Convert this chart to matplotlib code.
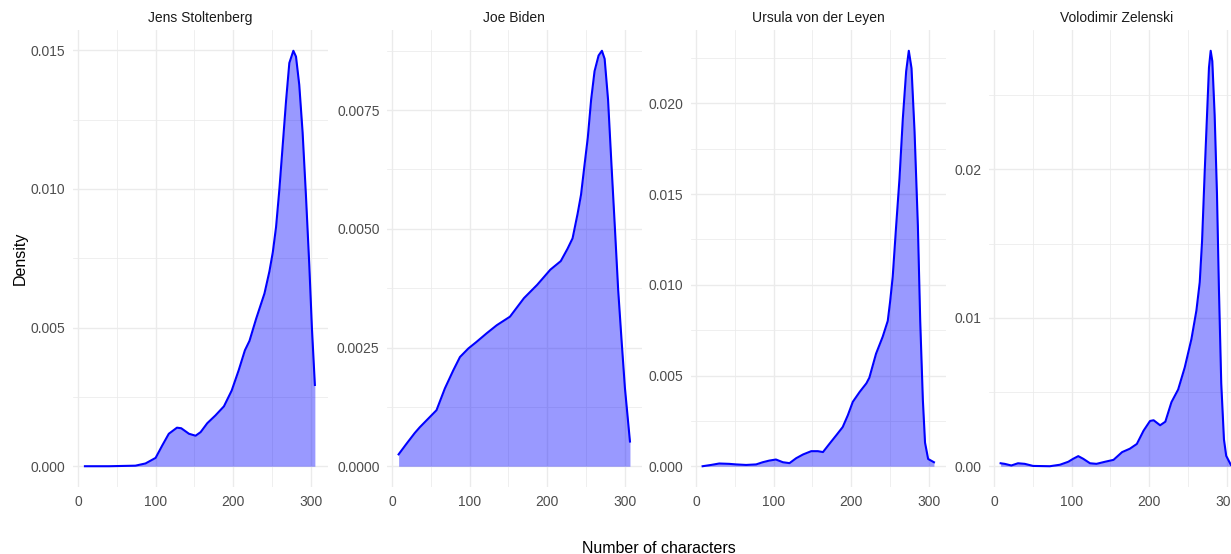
import numpy as np
import matplotlib
matplotlib.use("Agg")
import matplotlib.pyplot as plt
from matplotlib.ticker import FixedLocator, FormatStrFormatter

plt.rcParams["font.family"] = ["Liberation Sans", "DejaVu Sans"]

# ===============================
# Data (density curves)
# ===============================
speakers = ["Jens Stoltenberg", "Joe Biden", "Ursula von der Leyen", "Volodimir Zelenski"]

jens_x = [9, 40, 74, 87, 100, 108.6, 117, 127.5, 133, 143, 151.5, 158, 166.5, 177, 188,
          198, 207, 215, 220.9, 229.5, 240.2, 246.6, 250.9, 255.1, 259.4, 263.7, 268,
          272.2, 277.4, 280.8, 285, 289.3, 293.6, 297.9, 301.3, 305.1]
jens_y = [0, 0, 0.00002, 0.0001, 0.0003, 0.00075, 0.00117, 0.00139, 0.00137, 0.00117,
          0.0011, 0.00123, 0.00155, 0.00183, 0.00216, 0.00273, 0.00346, 0.00418, 0.00452,
          0.00532, 0.00623, 0.00703, 0.00771, 0.00862, 0.00999, 0.01158, 0.01318, 0.01454,
          0.01498, 0.01477, 0.01375, 0.01204, 0.00976, 0.00726, 0.00498, 0.00293]

biden_x = [8.6, 18.6, 29.4, 35.8, 46.6, 57.4, 68.2, 79, 87.6, 98.4, 109, 122, 135, 152,
           170, 187, 204, 217.4, 226.1, 232.6, 239.1, 243.5, 247.8, 252.2, 256.5, 260.9,
           266.1, 270.4, 273.9, 278.3, 282.6, 287, 291.3, 295.7, 300, 306.5]
biden_y = [0.00025, 0.00047, 0.0007, 0.00082, 0.001, 0.00118, 0.00164, 0.00202, 0.0023,
           0.00248, 0.00262, 0.0028, 0.00297, 0.00315, 0.00354, 0.00382, 0.00414, 0.00432,
           0.00458, 0.0048, 0.00532, 0.00572, 0.00632, 0.00692, 0.00772, 0.00832, 0.00865,
           0.00875, 0.00858, 0.00772, 0.00638, 0.00505, 0.00372, 0.00265, 0.00165, 0.00052]

ursula_x = [8.6, 19.4, 30, 43, 51.7, 64.6, 77.5, 86, 94.4, 103, 112, 120.5, 129, 138,
            148.5, 157, 163.6, 172, 180.6, 189, 195.6, 202, 210.9, 219.5, 223.3, 231.9,
            240.5, 247, 250, 253.4, 257.8, 262.1, 266.4, 270.7, 274.1, 277.6, 281.5, 285.8,
            288.8, 292.2, 295, 299, 306.5]
ursula_y = [0, 0.00007, 0.00015, 0.00013, 0.0001, 0.00007, 0.0001, 0.00022, 0.00031,
            0.00037, 0.00022, 0.00017, 0.00044, 0.00065, 0.00083, 0.00083, 0.00078, 0.00124,
            0.0017, 0.00216, 0.00281, 0.00355, 0.0041, 0.00457, 0.00488, 0.0062, 0.00714,
            0.00801, 0.00906, 0.01045, 0.01324, 0.01585, 0.01916, 0.02177, 0.0229, 0.02194,
            0.01846, 0.01324, 0.00801, 0.00366, 0.0013, 0.0004, 0.00022]

zelenski_x = [8.6, 13.8, 22.4, 31, 39.7, 50.4, 72, 85, 95.7, 102, 108.6, 115, 123.7, 132,
              143, 154, 165, 175, 184, 192.7, 201, 205.6, 214, 220.7, 228.6, 237.2, 245.7,
              254.3, 260.7, 265, 268, 271.4, 274.4, 276.9, 279.1, 281.2, 284.2, 287.2,
              289.7, 292.7, 296.2, 299.1, 305]
zelenski_y = [0.0002, 0.00016, 0.00005, 0.0002, 0.00016, 0.00002, 0, 0.0001, 0.0003,
              0.0005, 0.00068, 0.0005, 0.0002, 0.00016, 0.0003, 0.00043, 0.00095, 0.00118,
              0.0015, 0.0024, 0.00305, 0.0031, 0.00276, 0.003, 0.00432, 0.00517, 0.00666,
              0.00857, 0.01049, 0.0124, 0.01517, 0.01985, 0.02368, 0.02687, 0.028, 0.0273,
              0.02368, 0.01836, 0.01198, 0.00559, 0.0018, 0.0007, 0.0001]

curves = [(jens_x, jens_y), (biden_x, biden_y), (ursula_x, ursula_y), (zelenski_x, zelenski_y)]

x_breaks = [0, 100, 200, 300]
y_breaks = [
    [0, 0.005, 0.010, 0.015],
    [0, 0.0025, 0.0050, 0.0075],
    [0, 0.005, 0.010, 0.015, 0.020],
    [0, 0.01, 0.02],
]
y_formats = ["%.3f", "%.4f", "%.3f", "%.2f"]

# ===============================
# Layout (pixels -> figure fraction)
# ===============================
W, H = 1231, 554
fig = plt.figure(figsize=(W / 100, H / 100), dpi=100)

panel_left = [72.5, 386.5, 690.5, 988.5]
panel_w = 255.5
panel_top, panel_bottom = 30, 487

grid_col = "#EBEBEB"

for i, name in enumerate(speakers):
    ax = fig.add_axes([panel_left[i] / W, (H - panel_bottom) / H,
                       panel_w / W, (panel_bottom - panel_top) / H])
    x = np.array(curves[i][0])
    y = np.array(curves[i][1])

    ax.fill_between(x, 0, y, color="blue", alpha=0.4, linewidth=0, zorder=2)
    ax.plot(x, y, color="blue", lw=1.5, zorder=3, solid_joinstyle="round")

    ymax = y.max()
    ax.set_xlim(-7, 322)
    ax.set_ylim(-0.05 * ymax, 1.05 * ymax)

    # grid: major + minor like theme_minimal
    yb = y_breaks[i]
    step = yb[1] - yb[0]
    ax.xaxis.set_major_locator(FixedLocator(x_breaks))
    ax.xaxis.set_minor_locator(FixedLocator([50, 150, 250]))
    ax.yaxis.set_major_locator(FixedLocator(yb))
    ax.yaxis.set_minor_locator(FixedLocator(list(np.arange(step / 2, 1.05 * ymax, step))))
    ax.yaxis.set_major_formatter(FormatStrFormatter(y_formats[i]))
    ax.grid(which="major", color=grid_col, lw=1.0, zorder=0)
    ax.grid(which="minor", color=grid_col, lw=0.55, zorder=0)
    ax.set_axisbelow(True)

    ax.tick_params(which="both", length=0, labelsize=10, colors="#4D4D4D")
    ax.tick_params(axis="x", pad=6)
    ax.tick_params(axis="y", pad=5)
    for s in ax.spines.values():
        s.set_visible(False)

    ax.set_title(name, fontsize=10, color="#1A1A1A", pad=6)

fig.text(20 / W, 1 - 258 / H, "Density", rotation=90, ha="center", va="center",
         fontsize=11.5, color="black")
fig.text(659 / W, 1 - 541 / H, "Number of characters", ha="center", va="top",
         fontsize=11.5, color="black")

plt.savefig("out.png", dpi=100)
